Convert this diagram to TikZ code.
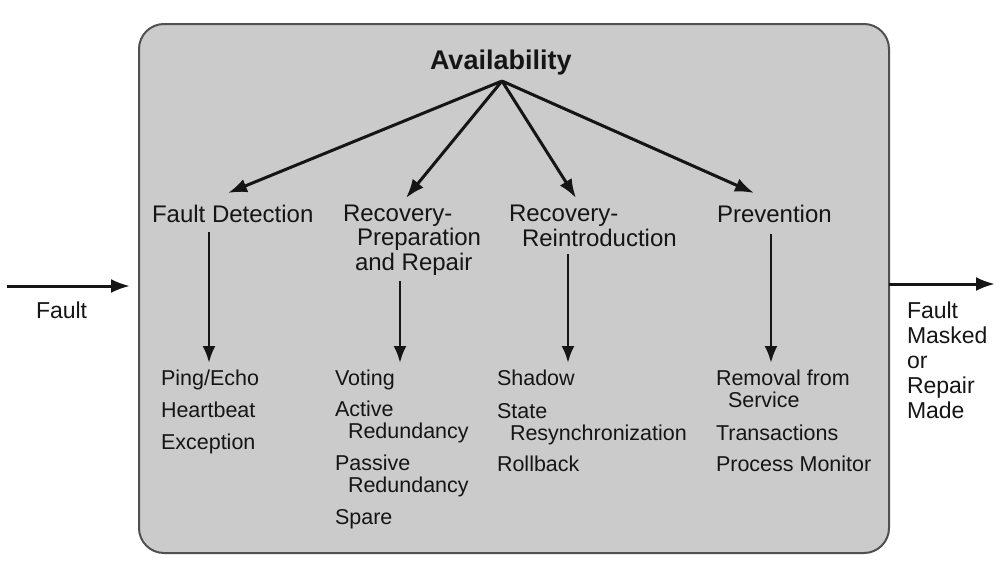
\documentclass[tikz,border=0pt]{standalone}
\usepackage{fontspec}
\setmainfont{Liberation Sans}
\usetikzlibrary{arrows.meta}
\definecolor{boxfill}{HTML}{CBCBCB}
\definecolor{boxedge}{HTML}{505050}
\definecolor{ink}{HTML}{151515}
\begin{document}
\begin{tikzpicture}[x=1pt,y=-1pt,
  txt/.style={anchor=base west,inner sep=0pt,outer sep=0pt,text=ink,align=left},
  hdr/.style={txt,font=\fontsize{24}{24.5}\selectfont},
  item/.style={txt,font=\fontsize{21.5}{21.5}\selectfont},
  outer/.style={txt,font=\fontsize{23}{25}\selectfont},
  arr/.style={draw=ink,line width=3pt,-{Latex[length=19pt,width=14pt]}},
  arrthin/.style={draw=ink,line width=2.8pt,-{Latex[length=17pt,width=13pt]}}]
\useasboundingbox (0,0) rectangle (1002,576);
% main box
\node[draw=boxedge,fill=boxfill,line width=2pt,rounded corners=25pt,
  minimum width=750pt,minimum height=529pt,inner sep=0pt,anchor=north west] (box) at (138,23) {};
% title
\node[txt,font=\bfseries\fontsize{27}{27}\selectfont] (avail) at (430,69) {Availability};
\coordinate (root) at (502,81);
% headers (base anchor = last line baseline)
\node[hdr] (fd) at (152,222) {Fault Detection};
\node[hdr] (rp) at (343,270) {Recovery-\\\hspace{14pt}Preparation\\\hspace{12pt}and Repair};
\node[hdr] (rr) at (509,246) {Recovery-\\\hspace{13pt}Reintroduction};
\node[hdr] (pv) at (717,222) {Prevention};
\coordinate (tfd) at (228,193);
\coordinate (trp) at (406,198);
\coordinate (trr) at (576,198);
\coordinate (tpv) at (754,193);
\draw[arr] (root) -- (tfd);
\draw[arr] (root) -- (trp);
\draw[arr] (root) -- (trr);
\draw[arr] (root) -- (tpv);
% vertical arrows
\coordinate (sfd) at (209,232); \coordinate (efd) at (209,363);
\coordinate (srp) at (400,281); \coordinate (erp) at (400,363);
\coordinate (srr) at (568,254); \coordinate (err) at (568,363);
\coordinate (spv) at (771,234); \coordinate (epv) at (771,363);
\draw[arrthin] (sfd) -- (efd);
\draw[arrthin] (srp) -- (erp);
\draw[arrthin] (srr) -- (err);
\draw[arrthin] (spv) -- (epv);
% items: fault detection
\node[item] (i1) at (161,385) {Ping/Echo};
\node[item] (i2) at (161,417) {Heartbeat};
\node[item] (i3) at (161,449) {Exception};
% recovery preparation
\node[item] (i4) at (335,385) {Voting};
\node[item] (i5) at (335,438) {Active\\\hspace{13pt}Redundancy};
\node[item] (i6) at (335,492) {Passive\\\hspace{13pt}Redundancy};
\node[item] (i7) at (335,524) {Spare};
% reintroduction
\node[item] (i8) at (497,385) {Shadow};
\node[item] (i9) at (497,440) {State\\\hspace{13pt}Resynchronization};
\node[item] (i10) at (497,471) {Rollback};
% prevention
\node[item] (i11) at (716,407) {Removal from\\\hspace{12pt}Service};
\node[item] (i12) at (716,440) {Transactions};
\node[item] (i13) at (716,471) {Process Monitor};
% outside
\coordinate (fin0) at (7,286);
\coordinate (fin1) at (130,286);
\draw[arr] (fin0) -- (fin1);
\node[outer] (fault) at (36,318) {Fault};
\coordinate (fout0) at (889,284);
\coordinate (fout1) at (995,284);
\draw[arr] (fout0) -- (fout1);
\node[outer] (res) at (907,418) {Fault\\Masked\\or\\Repair\\Made};
\end{tikzpicture}
\end{document}
